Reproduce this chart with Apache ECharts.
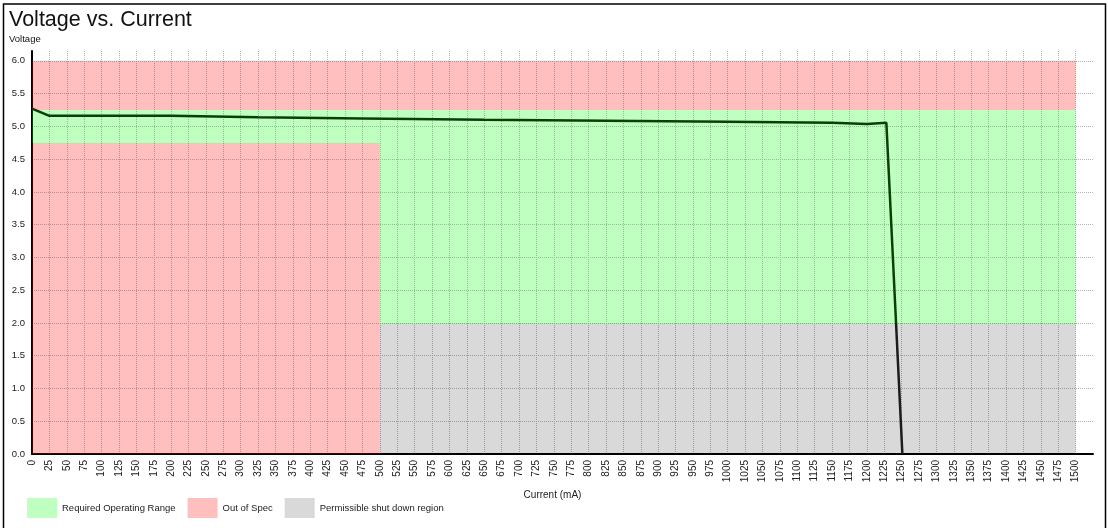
<!DOCTYPE html>
<html>
<head>
<meta charset="utf-8">
<title>Voltage vs. Current</title>
<script src="https://cdn.jsdelivr.net/npm/echarts@6/dist/echarts.min.js"></script>
<style>
html, body {
  margin: 0;
  padding: 0;
  background: #ffffff;
}
#main {
  width: 1108px;
  height: 528px;
}
</style>
</head>
<body>
<div id="main"></div>
<script>
// measured curve (mA, V)
const currents = [0, 25, 200, 200, 325, 325, 475, 475, 650, 650, 825, 825, 1000, 1000, 1150, 1150, 1200, 1200, 1228, 1251];
const voltages = [5.27, 5.16, 5.16, 5.14, 5.14, 5.12, 5.12, 5.10, 5.10, 5.085, 5.085, 5.07, 5.07, 5.055, 5.055, 5.035, 5.035, 5.055, 5.055, 0];

// regions: [xFrom, yFrom, xTo, yTo]
const greenRegions = [[0, 4.75, 500, 5.25], [500, 2.0, 1500, 5.25]];
const redRegions = [[0, 5.25, 1500, 6.0], [0, 0, 500, 4.75]];
const grayRegions = [[500, 0, 1500, 2.0]];

const legendNames = ["Required Operating Range", "Out of Spec", "Permissible shut down region"];

const font = "'Liberation Sans', Arial, sans-serif";

function toArea(list) {
  return list.map(function (r) {
    return [{ coord: [r[0], r[1]] }, { coord: [r[2], r[3]] }];
  });
}

function regionSeries(name, color, list) {
  return {
    name: name,
    type: "line",
    data: [],
    color: color,
    itemStyle: { color: color },
    markArea: {
      silent: true,
      label: { show: false },
      itemStyle: { color: color },
      data: toArea(list)
    }
  };
}

let chart = echarts.init(document.getElementById("main"));
chart.setOption({
  animation: false,
  backgroundColor: "#ffffff",
  textStyle: { fontFamily: font },
  title: {
    text: "Voltage vs. Current",
    subtext: "Voltage",
    left: 9,
    top: 9,
    itemGap: 3,
    padding: [0, 0, 0, 0],
    textStyle: { fontSize: 21.5, fontWeight: "normal", color: "#111", fontFamily: font },
    subtextStyle: { fontSize: 9.5, color: "#111", fontFamily: font }
  },
  legend: {
    data: legendNames,
    left: 27,
    top: 498,
    icon: "rect",
    itemWidth: 30,
    itemHeight: 20,
    itemGap: 12,
    padding: 0,
    textStyle: { fontSize: 9.5, color: "#222", fontFamily: font }
  },
  graphic: [
    {
      type: "rect",
      shape: { x: 3.5, y: 4, width: 1102, height: 540 },
      style: { fill: null, stroke: "#000", lineWidth: 1.5 },
      silent: true
    }
  ],
  grid: {
    left: 32,
    right: 15,
    top: 51,
    bottom: 74
  },
  xAxis: {
    type: "value",
    min: 0,
    max: 1525,
    interval: 25,
    name: "Current (mA)",
    nameLocation: "middle",
    nameGap: 35,
    nameTextStyle: { fontSize: 10, color: "#222", padding: [0, 20, 0, 0] },
    axisLine: { show: true, onZero: false, lineStyle: { color: "#000", width: 2 } },
    axisTick: { show: false },
    axisLabel: {
      rotate: 90,
      fontSize: 10,
      color: "#222",
      margin: 6,
      showMaxLabel: false,
      formatter: function (v) { return String(v); }
    },
    splitLine: {
      show: true,
      showMaxLine: false,
      lineStyle: { color: "#b4b4b4", type: "dotted", width: 1 }
    }
  },
  yAxis: {
    type: "value",
    min: 0,
    max: 6.15,
    interval: 0.5,
    axisLine: { show: true, lineStyle: { color: "#000", width: 2 } },
    axisTick: { show: false },
    axisLabel: {
      fontSize: 9.5,
      color: "#222",
      margin: 7,
      showMaxLabel: false,
      formatter: function (v) { return v.toFixed(1); }
    },
    splitLine: {
      show: true,
      showMaxLine: false,
      lineStyle: { color: "#b4b4b4", type: "dotted", width: 1 }
    }
  },
  series: [
    {
      name: "Voltage",
      type: "line",
      z: 4,
      showSymbol: false,
      symbol: "none",
      data: currents.map(function (c, i) { return [c, voltages[i]]; }),
      lineStyle: { width: 2.5, color: "#0a3f0a" }
    },
    regionSeries(legendNames[0], "rgba(0,255,0,0.25)", greenRegions),
    regionSeries(legendNames[1], "rgba(255,0,0,0.25)", redRegions),
    regionSeries(legendNames[2], "rgba(0,0,0,0.15)", grayRegions)
  ]
});

// line turns near black where it enters the grey band (below 2.0 V)
let yCut = chart.convertToPixel({ gridIndex: 0 }, [0, grayRegions[0][3]])[1];
let h = chart.getHeight();
chart.setOption({
  series: [
    {
      lineStyle: {
        color: new echarts.graphic.LinearGradient(0, 0, 0, h, [
          { offset: 0, color: "#0a3f0a" },
          { offset: yCut / h, color: "#0a3f0a" },
          { offset: yCut / h, color: "#1c1c1c" },
          { offset: 1, color: "#1c1c1c" }
        ], true)
      }
    }
  ]
});
</script>
</body>
</html>
